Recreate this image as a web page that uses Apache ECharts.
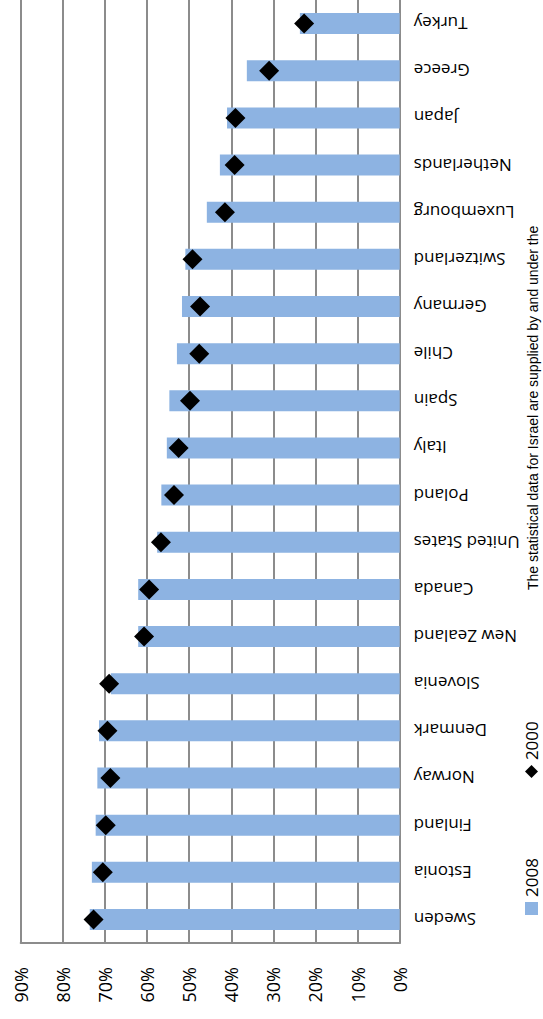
<!DOCTYPE html>
<html>
<head>
<meta charset="utf-8">
<script src="https://cdn.jsdelivr.net/npm/echarts@6/dist/echarts.min.js"></script>
<style>
  html, body { margin: 0; padding: 0; background: #fff; overflow: hidden; }
  body { width: 543px; height: 1019px; position: relative; }
  /* the chart is laid out landscape and turned a quarter-turn counter-clockwise */
  #chart {
    position: absolute; left: 0; top: 0;
    width: 1019px; height: 543px;
    transform-origin: 0 0;
    transform: translateY(1019px) rotate(-90deg);
  }
</style>
</head>
<body>
<div id="chart"></div>
<script>
// Countries, in the order they run along the category axis
const countries = ['Sweden', 'Estonia', 'Finland', 'Norway', 'Denmark', 'Slovenia', 'New Zealand',
  'Canada', 'United States', 'Poland', 'Italy', 'Spain', 'Chile', 'Germany', 'Switzerland',
  'Luxembourg', 'Netherlands', 'Japan', 'Greece', 'Turkey'];

// Shares in percent
const values2008 = [73.6, 73.1, 72.2, 71.8, 71.4, 68.6, 62.1, 62.1, 57.6, 56.6, 55.3, 54.7, 52.9,
  51.7, 50.9, 45.8, 42.7, 41.0, 36.3, 23.7];
const values2000 = [72.7, 70.5, 69.8, 68.7, 69.4, 69.0, 60.7, 59.5, 56.7, 53.6, 52.5, 49.8, 47.6,
  47.4, 49.2, 41.5, 39.2, 39.0, 31.0, 22.7];

const seriesNames = ['2008', '2000'];
const footnote = 'The statistical data for Israel are supplied by and under the';

const FONT = '"Open Sans", sans-serif';
const GRID_GREY = '#8c8c8c';

const chart = echarts.init(document.getElementById('chart'), null, { renderer: 'svg', width: 1019, height: 543 });

chart.setOption({
  animation: false,
  backgroundColor: '#fff',
  grid: { left: 76, right: 0, top: 20.7, bottom: 143.3, containLabel: false },
  legend: {
    left: 99, top: 518,
    itemWidth: 13, itemHeight: 13, itemGap: 80,
    textStyle: { fontFamily: FONT, fontSize: 17, color: '#000' },
    data: [
      { name: seriesNames[0], icon: 'rect' },
      { name: seriesNames[1], icon: 'diamond' }
    ]
  },
  xAxis: {
    type: 'category',
    data: countries,
    axisLine: { show: true, lineStyle: { color: GRID_GREY, width: 2 } },
    axisTick: { show: false },
    axisLabel: { rotate: 90, margin: 14, interval: 0, fontFamily: FONT, fontSize: 17, color: '#000' }
  },
  yAxis: {
    type: 'value',
    min: 0, max: 90, interval: 10,
    axisLine: { show: true, lineStyle: { color: GRID_GREY, width: 2 } },
    axisTick: { show: false },
    splitLine: { show: true, lineStyle: { color: GRID_GREY, width: 2 } },
    axisLabel: { formatter: '{value}%', margin: 24, fontFamily: FONT, fontSize: 18, color: '#000' }
  },
  series: [
    {
      name: seriesNames[0],
      type: 'bar',
      data: values2008,
      barWidth: 21,
      itemStyle: { color: '#8db3e2' }
    },
    {
      name: seriesNames[1],
      type: 'scatter',
      data: values2000,
      symbol: 'diamond',
      symbolSize: 20,
      itemStyle: { color: '#000', opacity: 1 },
      z: 5
    }
  ],
  graphic: [
    {
      type: 'text',
      left: 429, top: 526,
      style: {
        text: footnote,
        font: '14px "Liberation Sans", Arial, sans-serif',
        fill: '#000'
      }
    }
  ]
});
</script>
</body>
</html>
